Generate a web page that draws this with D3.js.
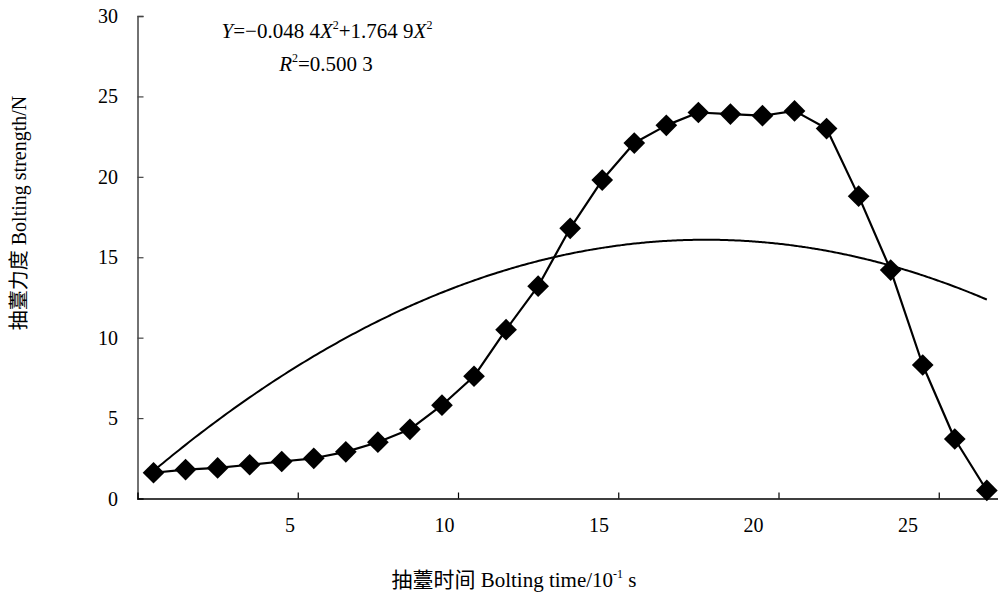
<!DOCTYPE html>
<html>
<head>
<meta charset="utf-8">
<script src="https://cdn.jsdelivr.net/npm/d3@7"></script>
<style>
  body { margin: 0; background: #fff; }
  svg text { font-family: "Liberation Serif", "Times New Roman", "Noto Sans CJK SC", serif; fill: #000; }
</style>
</head>
<body>
<div id="chart"></div>
<script>
// data: bolting strength at each time step
const times = d3.range(1, 28);
const strength = [1.6, 1.8, 1.9, 2.1, 2.3, 2.5, 2.9, 3.5, 4.3, 5.8, 7.6, 10.5, 13.2, 16.8,
  19.8, 22.1, 23.2, 24.0, 23.9, 23.8, 24.1, 23.0, 18.8, 14.2, 8.3, 3.7, 0.5];
// trend: Y = a X^2 + b X
const trendA = -0.0484;
const trendB = 1.7649;
const xTickLabels = [5, 10, 15, 20, 25];
const yTickLabels = [0, 5, 10, 15, 20, 25, 30];

const width = 998, height = 594;
const plotLeft = 137.5, plotBottom = 498.5, plotTop = 16;
const bw = 32.05;

const svg = d3.select("#chart").append("svg")
  .attr("width", width).attr("height", height);

// category scale (points sit in band centres)
const x = d3.scaleLinear().domain([0.5, 27.5]).range([plotLeft, plotLeft + 27 * bw]);
// scale used for the axis numbers
const xLab = d3.scaleLinear().domain([0, 27.5]).range([135.5, 985.3]);
const y = d3.scaleLinear().domain([0, 30]).range([plotBottom, plotTop]);

// y axis
const yAxis = d3.axisRight(y).tickValues(yTickLabels).tickSize(6).tickFormat("");
const gy = svg.append("g").attr("transform", `translate(${plotLeft},0)`).call(yAxis);
gy.select(".domain").attr("stroke", "#444").attr("stroke-width", 1.5);
gy.selectAll(".tick line").attr("stroke", "#444").attr("stroke-width", 1.2);
svg.append("g").selectAll("text").data(yTickLabels).enter().append("text")
  .attr("x", 118).attr("y", d => y(d)).attr("dy", "0.35em")
  .attr("text-anchor", "end").style("font-size", "20px").text(d => d);

// x axis: tick marks between categories
const xAxis = d3.axisTop(x).tickValues(xTickLabels.map(d => d + 0.5)).tickSize(6).tickFormat("");
const gx = svg.append("g").attr("transform", `translate(0,${plotBottom})`).call(xAxis);
gx.select(".domain").attr("stroke", "#000").attr("stroke-width", 1.5);
gx.selectAll(".tick line").attr("stroke", "#000").attr("stroke-width", 1.2);
svg.append("g").selectAll("text").data(xTickLabels).enter().append("text")
  .attr("x", d => xLab(d)).attr("y", 532)
  .attr("text-anchor", "middle").style("font-size", "20px").text(d => d);

// trend curve
const curvePts = d3.range(1, 27.001, 0.1).map(t => [t, trendA * t * t + trendB * t]);
svg.append("path")
  .attr("d", d3.line().x(d => x(d[0])).y(d => y(d[1])).curve(d3.curveMonotoneX)(curvePts))
  .attr("fill", "none").attr("stroke", "#000").attr("stroke-width", 2);

// data line
svg.append("path")
  .attr("d", d3.line().x((d, i) => x(times[i])).y(d => y(d))(strength))
  .attr("fill", "none").attr("stroke", "#000").attr("stroke-width", 2.2)
  .attr("stroke-linejoin", "round");

// diamonds
const sym = d3.symbol().type(d3.symbolDiamond2).size(300);
svg.append("g").selectAll("path").data(strength).enter().append("path")
  .attr("d", sym)
  .attr("transform", (d, i) => `translate(${x(times[i])},${y(d)})`)
  .attr("fill", "#000");

// equation
const eq = svg.append("text").attr("x", 327).attr("y", 38)
  .attr("text-anchor", "middle").style("font-size", "21px");
eq.append("tspan").style("font-style", "italic").text("Y");
eq.append("tspan").text("=\u22120.048 4");
eq.append("tspan").style("font-style", "italic").text("X");
eq.append("tspan").attr("dy", -9).style("font-size", "12px").text("2");
eq.append("tspan").attr("dy", 9).text("+1.764 9");
eq.append("tspan").style("font-style", "italic").text("X");
eq.append("tspan").attr("dy", -9).style("font-size", "12px").text("2");

const r2 = svg.append("text").attr("x", 326).attr("y", 71)
  .attr("text-anchor", "middle").style("font-size", "21px");
r2.append("tspan").style("font-style", "italic").text("R");
r2.append("tspan").attr("dy", -9).style("font-size", "12px").text("2");
r2.append("tspan").attr("dy", 9).text("=0.500 3");

// axis titles
const xt = svg.append("text").attr("x", 514).attr("y", 587)
  .attr("text-anchor", "middle").style("font-size", "21px");
xt.append("tspan").text("抽薹时间 Bolting time/10");
xt.append("tspan").attr("dy", -9).style("font-size", "12px").text("-1");
xt.append("tspan").attr("dy", 9).text(" s");

svg.append("text")
  .attr("transform", "translate(26,213) rotate(-90)")
  .attr("text-anchor", "middle").style("font-size", "20px")
  .text("抽薹力度 Bolting strength/N");
</script>
</body>
</html>
